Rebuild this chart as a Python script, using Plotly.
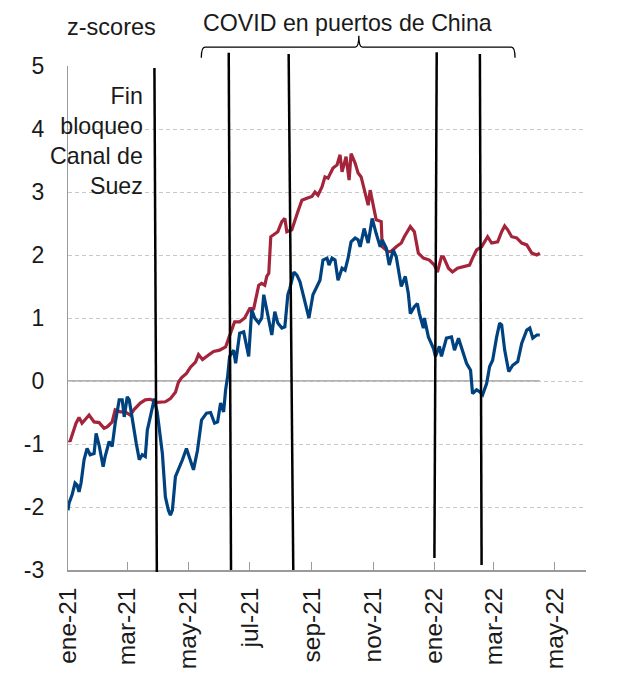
import pandas as pd
import plotly.graph_objects as go

# ---------------- data ----------------
START = pd.Timestamp("2021-01-01")
X_END_DAY = 516  # axis ends ~2022-06-01

tick_dates = ["2021-01-01", "2021-03-01", "2021-05-01", "2021-07-01", "2021-09-01",
              "2021-11-01", "2022-01-01", "2022-03-01", "2022-05-01"]
tick_text = ["ene-21", "mar-21", "may-21", "jul-21", "sep-21",
             "nov-21", "ene-22", "mar-22", "may-22"]
y_ticks = [-3, -2, -1, 0, 1, 2, 3, 4, 5]
y_tick_text = ["-3", "-2", "-1", "0", "1", "2", "3", "4", "5"]

# days since 2021-01-01
red_day = [1, 2, 8, 11, 14, 21, 26, 31, 36, 39, 44, 47, 52, 57, 62, 66, 72, 77, 82, 89,
           97, 102, 107, 110, 113, 118, 122, 127, 130, 134, 139, 145, 151, 157, 161, 166, 171, 176, 181, 185,
           188, 190, 193, 196, 198, 200, 202, 206, 209, 213, 216, 218, 223, 229, 233, 238, 243, 246, 249, 253,
           256, 259, 264, 268, 271, 273, 277, 280, 282, 286, 289, 292, 296, 299, 301, 304, 307, 312, 313, 319,
           322, 327, 332, 335, 341, 345, 349, 354, 360, 365, 368, 372, 374, 379, 383, 388, 393, 400, 403, 407,
           412, 418, 422, 428, 432, 435, 438, 442, 447, 452, 457, 462, 467, 470]
red_val = [-0.94, -0.96, -0.67, -0.58, -0.67, -0.54, -0.65, -0.66, -0.75, -0.73,
           -0.65, -0.46, -0.49, -0.49, -0.54, -0.45, -0.35, -0.30, -0.29, -0.34,
           -0.33, -0.28, -0.18, -0.02, 0.05, 0.12, 0.22, 0.30, 0.42, 0.34,
           0.40, 0.47, 0.49, 0.54, 0.72, 0.94, 0.94, 1.0, 1.15, 1.15,
           1.37, 1.52, 1.55, 1.52, 1.66, 1.71, 2.29, 2.33, 2.37, 2.53,
           2.58, 2.37, 2.40, 2.69, 2.87, 2.90, 2.93, 3.0, 2.95, 3.08,
           3.24, 3.22, 3.38, 3.43, 3.59, 3.32, 3.56, 3.19, 3.61, 3.46,
           3.30, 3.24, 2.98, 2.79, 3.03, 2.82, 2.56, 2.53, 2.13, 2.05,
           2.06, 2.13, 2.19, 2.29, 2.45, 2.37, 2.03, 1.95, 1.92, 1.84,
           1.73, 1.97, 1.97, 1.79, 1.73, 1.79, 1.81, 1.84, 1.95, 2.08,
           2.13, 2.29, 2.19, 2.21, 2.37, 2.46, 2.40, 2.29, 2.27, 2.19,
           2.16, 2.03, 2.0, 2.03]

blue_day = [0, 1, 4, 7, 9, 11, 13, 16, 19, 22, 26, 28, 31, 35, 37, 41, 44, 47, 51, 54,
            56, 59, 61, 64, 68, 71, 74, 77, 79, 82, 85, 86, 89, 94, 97, 100, 102, 104, 107, 110,
            114, 118, 122, 125, 129, 133, 138, 142, 146, 149, 152, 155, 157, 159, 161, 165, 167, 171, 175, 180,
            183, 186, 190, 193, 195, 198, 203, 206, 209, 213, 216, 219, 221, 225, 228, 231, 236, 240, 244, 248,
            251, 254, 258, 260, 263, 266, 269, 273, 276, 279, 282, 286, 289, 291, 295, 299, 303, 307, 311, 313,
            317, 320, 324, 327, 331, 332, 336, 339, 341, 345, 348, 350, 354, 355, 359, 364, 366, 370, 372, 377,
            382, 385, 389, 393, 397, 401, 403, 407, 410, 413, 417, 420, 423, 427, 430, 432, 435, 439, 443, 448,
            452, 457, 460, 463, 467, 470]
blue_val = [-2.05, -1.94, -1.81, -1.62, -1.65, -1.76, -1.62, -1.25, -1.07, -1.17,
            -1.15, -0.83, -1.02, -1.36, -1.20, -0.96, -1.04, -0.67, -0.30, -0.30,
            -0.57, -0.25, -0.30, -0.62, -0.99, -1.25, -1.17, -1.20, -0.78, -0.57,
            -0.30, -0.28, -0.51, -1.15, -1.84, -2.05, -2.13, -2.05, -1.52, -1.41,
            -1.25, -1.07, -1.25, -1.41, -1.10, -0.62, -0.51, -0.50, -0.67, -0.65,
            -0.35, -0.49, -0.14, 0.07, 0.39, 0.49, 0.28, 0.76, 0.78, 0.39,
            1.13, 1.0, 0.92, 1.0, 1.37, 1.13, 0.73, 1.10, 0.92, 0.84,
            0.86, 1.37, 1.47, 1.73, 1.68, 1.58, 1.23, 1.0, 1.37, 1.50,
            1.60, 1.92, 1.95, 1.84, 1.95, 1.92, 1.60, 1.79, 1.76, 1.95,
            2.21, 2.27, 2.24, 2.13, 2.42, 2.19, 2.58, 2.34, 2.13, 2.24,
            2.11, 1.84, 2.08, 1.97, 1.60, 1.50, 1.66, 1.39, 1.07, 1.18,
            1.23, 1.07, 0.84, 1.0, 0.70, 0.52, 0.39, 0.55, 0.39, 0.68,
            0.70, 0.49, 0.68, 0.49, 0.28, 0.17, -0.20, -0.14, -0.17, -0.22,
            -0.04, 0.23, 0.33, 0.70, 0.92, 0.89, 0.49, 0.15, 0.25, 0.31,
            0.60, 0.81, 0.84, 0.68, 0.73, 0.73]

# event markers (hand-drawn, slightly slanted)
event_top_day = [86.1, 160.1, 219.8, 367.3, 410.3]
event_bot_day = [88.5, 162.4, 224.4, 365.0, 412.0]
event_top_val = [4.97, 5.21, 5.19, 5.22, 5.19]
event_bot_val = [-3.03, -3.0, -3.0, -2.81, -2.92]

covid_start_day, covid_mid_day, covid_end_day = 132.8, 289.7, 445.3

# ---------------- helpers ----------------
Y_MIN, Y_MAX = -3, 5
PLOT_H = 504
MT = 58


def to_date(d):
    return START + pd.Timedelta(days=d)


def xp(d):
    return d / X_END_DAY


def yp(v):
    return (v - Y_MIN) / (Y_MAX - Y_MIN)


RED = "#A4243B"
BLUE = "#00427F"
FONT = "Liberation Sans, Arial, sans-serif"
TXT = "#1a1a1a"

fig = go.Figure()
fig.add_trace(go.Scatter(x=[to_date(d) for d in red_day], y=red_val, mode="lines",
                         line=dict(color=RED, width=3.2), showlegend=False, hoverinfo="skip"))
fig.add_trace(go.Scatter(x=[to_date(d) for d in blue_day], y=blue_val, mode="lines",
                         line=dict(color=BLUE, width=3.2), showlegend=False, hoverinfo="skip"))

shapes = []
# zero reference line over data span
shapes.append(dict(type="line", xref="x", yref="y", x0=to_date(0), x1=to_date(max(red_day)),
                   y0=0, y1=0, line=dict(color="#9a9a9a", width=1.6), layer="below"))
for td, bd, tv, bv in zip(event_top_day, event_bot_day, event_top_val, event_bot_val):
    shapes.append(dict(type="line", xref="x", yref="paper", x0=to_date(td), x1=to_date(bd),
                       y0=yp(tv), y1=yp(bv), line=dict(color="black", width=2.5)))

# brace over COVID period
L, M, R = xp(covid_start_day), xp(covid_mid_day), xp(covid_end_day)
yb, ye, yk = yp(5.30), yp(5.13), yp(5.48)
r = 0.007
path = (f"M {L},{ye} Q {L},{yb} {L + r},{yb} L {M - r},{yb} Q {M},{yb} {M},{yk} "
        f"Q {M},{yb} {M + r},{yb} L {R - r},{yb} Q {R},{yb} {R},{ye}")
shapes.append(dict(type="path", xref="paper", yref="paper", path=path,
                   line=dict(color="black", width=1.3)))

annotations = [
    dict(text="z-scores", xref="paper", yref="paper", x=-0.006, y=1.077,
         xanchor="left", yanchor="middle", showarrow=False, font=dict(size=23.5, color=TXT, family=FONT)),
    dict(text="COVID en puertos de China", xref="paper", yref="paper", x=0.5405,
         y=1 + (MT - 0.5) / PLOT_H,
         xanchor="center", yanchor="top", showarrow=False, font=dict(size=23.2, color=TXT, family=FONT)),
    dict(text="Fin<br>bloqueo<br>Canal de<br>Suez", xref="paper", yref="paper", x=0.1486, y=0.852,
         xanchor="right", yanchor="middle", align="right", showarrow=False,
         font=dict(size=23.2, color=TXT, family=FONT)),
]

# page body has an 8px default margin: size/position the figure so the plot area
# lands where the reference has it
fig.update_layout(
    width=602, height=661,
    margin=dict(l=60, r=24, t=MT, b=99),
    paper_bgcolor="white", plot_bgcolor="white",
    font=dict(family=FONT, size=22, color=TXT),
    shapes=shapes, annotations=annotations, showlegend=False,
    xaxis=dict(type="date", range=[to_date(0), to_date(X_END_DAY)],
               tickvals=tick_dates, ticktext=tick_text, tickangle=-90,
               ticks="inside", ticklen=8, tickcolor="#9a9a9a", tickwidth=1.2,
               showline=True, linecolor="#9a9a9a", linewidth=1.5, automargin=False,
               showgrid=False, zeroline=False, ticklabelstandoff=6,
               tickfont=dict(size=24.5, color=TXT)),
    yaxis=dict(range=[Y_MIN, Y_MAX], tickvals=y_ticks, ticktext=y_tick_text, ticks="",
               showline=True, linecolor="#9a9a9a", linewidth=1.2, showgrid=True,
               gridcolor="#c8c8c8", griddash="4px,3px", gridwidth=1, zeroline=False,
               automargin=False, ticklabelstandoff=18, tickfont=dict(size=23, color=TXT)),
)

fig.write_html("out.html")
